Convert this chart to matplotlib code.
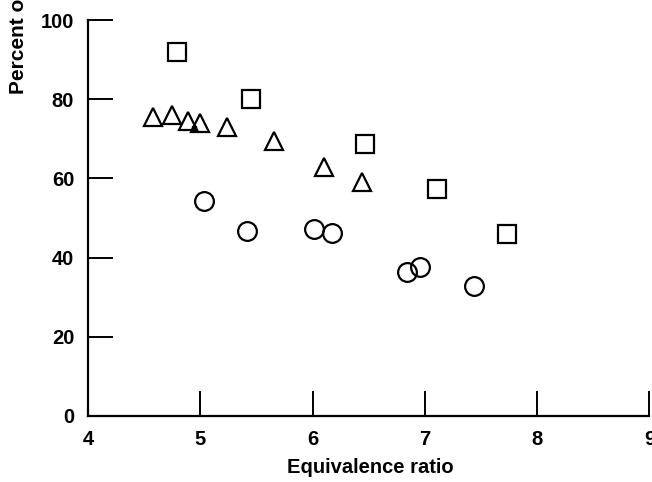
import matplotlib
matplotlib.use("Agg")
import matplotlib.pyplot as plt

plt.rcParams['font.family'] = ['Liberation Sans', 'DejaVu Sans']
plt.rcParams['font.weight'] = 'bold'

# squares
sq_x = [4.79, 5.45, 6.47, 7.11, 7.73]
sq_y = [91.9, 80.0, 68.6, 57.2, 46.0]
# triangles
tri_x = [4.58, 4.75, 4.89, 5.00, 5.24, 5.66, 6.10, 6.44]
tri_y = [75.6, 76.1, 74.6, 73.9, 72.9, 69.4, 63.0, 59.1]
# circles
circ_x = [5.03, 5.42, 6.01, 6.17, 6.84, 6.96, 7.44]
circ_y = [54.3, 46.6, 47.2, 46.3, 36.3, 37.5, 32.8]
# small dot
dot_x = [4.94]
dot_y = [72.8]

xticks = [4, 5, 6, 7, 8, 9]
yticks = [0, 20, 40, 60, 80, 100]

fig = plt.figure(figsize=(6.52, 4.82), dpi=100)
ax = fig.add_axes([0.135, 0.137, 0.861, 0.8215])

ms = 13.5
ax.plot(sq_x, sq_y, 's', ms=ms, mfc='white', mec='black', mew=1.6, clip_on=False)
ax.plot(tri_x, tri_y, '^', ms=ms, mfc='none', mec='black', mew=1.6, clip_on=False)
ax.plot(circ_x, circ_y, 'o', ms=ms, mfc='none', mec='black', mew=1.6, clip_on=False)
ax.plot(dot_x, dot_y, 's', ms=3, color='black')

ax.set_xlim(4, 9)
ax.set_ylim(0, 100)
ax.set_xticks(xticks)
ax.set_yticks(yticks)
ax.spines['top'].set_visible(False)
ax.spines['right'].set_visible(False)
ax.spines['left'].set_linewidth(1.6)
ax.spines['bottom'].set_linewidth(1.6)
ax.tick_params(direction='in', length=18, width=1.4, labelsize=14.5, pad=10)

ax.set_xlabel('Equivalence ratio', fontsize=14.5, fontweight='bold')
ax.xaxis.set_label_coords(0.503, -0.105)
fig.text(19 / 652, 1 - 94 / 482, 'Percent of theoretical yield', rotation=90,
         ha='center', va='bottom', fontsize=15, fontweight='bold')

fig.savefig('out.png', dpi=100)
